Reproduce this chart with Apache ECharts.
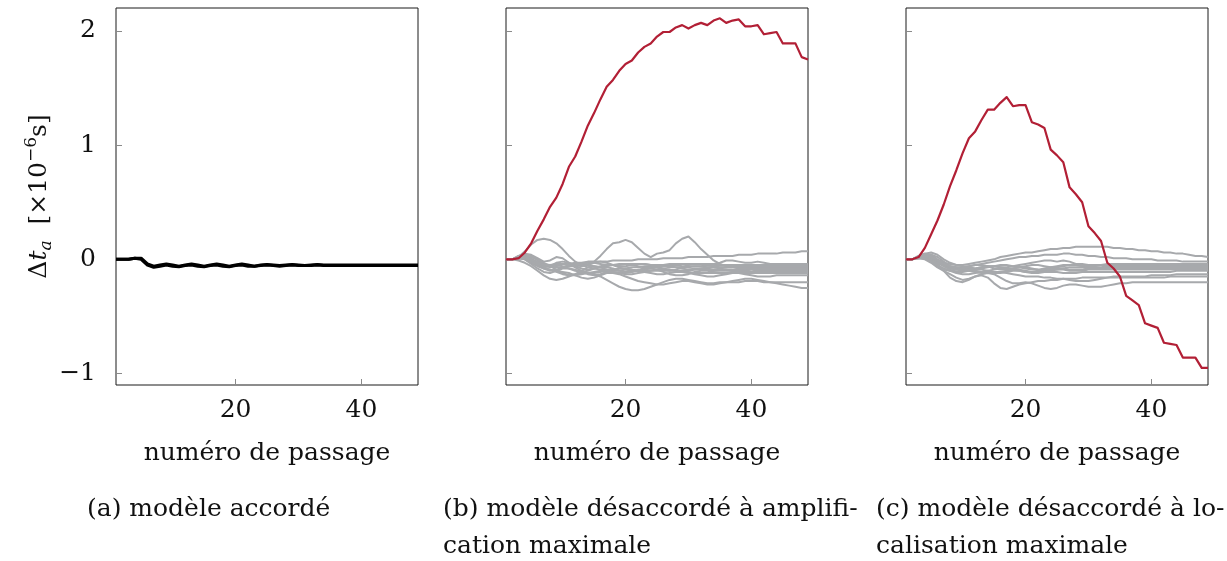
<!DOCTYPE html>
<html><head><meta charset="utf-8">
<script src="https://cdn.jsdelivr.net/npm/echarts@6/dist/echarts.min.js"></script>
<style>html,body{margin:0;padding:0;background:#fff}#c{width:1227px;height:561px}</style>
</head><body><div id="c"></div>
<script>
// ---------- data ----------
const passages = [1,2,3,4,5,6,7,8,9,10,11,12,13,14,15,16,17,18,19,20,21,22,23,24,25,26,27,28,29,30,31,32,33,34,35,36,37,38,39,40,41,42,43,44,45,46,47,48,49];
const xTicks = [20, 40];
const yTicks = [-1, 0, 1, 2];

// (a) tuned model
const tuned1 = [0,0,0,0.01,0.01,-0.04,-0.06,-0.05,-0.04,-0.05,
  -0.06,-0.05,-0.04,-0.05,-0.06,-0.05,-0.04,-0.05,-0.06,-0.05,
  -0.04,-0.05,-0.06,-0.05,-0.045,-0.05,-0.055,-0.05,-0.045,-0.05,
  -0.055,-0.05,-0.045,-0.05,-0.05,-0.05,-0.05,-0.05,-0.05,-0.05,
  -0.05,-0.05,-0.05,-0.05,-0.05,-0.05,-0.05,-0.05,-0.05];
const tuned2 = [0,0,0,0.01,0.0,-0.05,-0.07,-0.06,-0.05,-0.06,
  -0.065,-0.055,-0.05,-0.06,-0.065,-0.055,-0.05,-0.06,-0.065,-0.055,
  -0.05,-0.06,-0.06,-0.055,-0.05,-0.055,-0.06,-0.055,-0.05,-0.055,
  -0.055,-0.055,-0.05,-0.055,-0.055,-0.055,-0.055,-0.055,-0.055,-0.055,
  -0.055,-0.055,-0.055,-0.055,-0.055,-0.055,-0.055,-0.055,-0.055];

// (b) mistuned, maximal amplification
const ampWorst = [0,0,0.01,0.06,0.14,0.25,0.35,0.46,0.54,0.66,
  0.81,0.90,1.03,1.17,1.28,1.40,1.51,1.57,1.65,1.71,
  1.74,1.81,1.86,1.89,1.95,1.99,1.99,2.03,2.05,2.02,
  2.05,2.07,2.05,2.09,2.11,2.07,2.09,2.10,2.04,2.04,
  2.05,1.97,1.98,1.99,1.89,1.89,1.89,1.77,1.75];
const ampOthers = [
 [0,0,0.02,0.07,0.13,0.17,0.18,0.17,0.14,0.09, 0.03,-0.02,-0.05,-0.07,-0.08,-0.09,-0.09,-0.10,-0.10,-0.09, -0.09,-0.10,-0.10,-0.10,-0.09,-0.09,-0.09,-0.10,-0.10,-0.10, -0.09,-0.09,-0.09,-0.10,-0.10,-0.10,-0.10,-0.09,-0.09,-0.09, -0.10,-0.10,-0.10,-0.10,-0.10,-0.10,-0.10,-0.10,-0.10],
 [0,0,0.03,0.04,0.01,-0.03,-0.05,-0.06,-0.07,-0.07, -0.06,-0.06,-0.05,-0.04,-0.02,0.03,0.09,0.14,0.15,0.17, 0.15,0.10,0.05,0.02,0.05,0.06,0.08,0.14,0.18,0.20, 0.15,0.09,0.04,-0.01,-0.04,-0.06,-0.06,-0.07,-0.08,-0.08, -0.08,-0.09,-0.09,-0.09,-0.09,-0.10,-0.10,-0.10,-0.10],
 [0,0,0.02,0.02,0.0,-0.02,-0.04,-0.05,-0.05,-0.04, -0.04,-0.03,-0.03,-0.02,-0.02,-0.02,-0.02,-0.01,-0.01,-0.01, -0.01,0.0,0.0,0.0,0.0,0.01,0.01,0.01,0.01,0.02, 0.02,0.02,0.02,0.03,0.03,0.03,0.03,0.04,0.04,0.04, 0.05,0.05,0.05,0.05,0.06,0.06,0.06,0.07,0.07],
 [0,0,-0.01,-0.03,-0.06,-0.10,-0.14,-0.17,-0.18,-0.17, -0.15,-0.13,-0.12,-0.12,-0.13,-0.15,-0.18,-0.21,-0.24,-0.26, -0.27,-0.27,-0.26,-0.24,-0.22,-0.20,-0.18,-0.17,-0.17,-0.18, -0.19,-0.20,-0.21,-0.21,-0.20,-0.20,-0.20,-0.20,-0.19,-0.19, -0.19,-0.20,-0.20,-0.21,-0.22,-0.23,-0.24,-0.25,-0.25],
 [0,0,0.01,0.0,-0.03,-0.06,-0.08,-0.09,-0.10,-0.11, -0.12,-0.14,-0.16,-0.17,-0.16,-0.14,-0.12,-0.12,-0.13,-0.15, -0.17,-0.19,-0.20,-0.21,-0.22,-0.22,-0.21,-0.20,-0.19,-0.19, -0.20,-0.21,-0.22,-0.22,-0.21,-0.20,-0.19,-0.18,-0.17,-0.17, -0.18,-0.19,-0.20,-0.20,-0.20,-0.20,-0.20,-0.20,-0.20],
 [0,0,0.03,0.05,0.04,0.01,-0.02,-0.01,0.02,0.01, -0.03,-0.07,-0.10,-0.12,-0.12,-0.11,-0.10,-0.09,-0.08,-0.08, -0.07,-0.07,-0.06,-0.06,-0.06,-0.06,-0.07,-0.07,-0.07,-0.07, -0.06,-0.06,-0.07,-0.07,-0.07,-0.07,-0.07,-0.07,-0.07,-0.07, -0.07,-0.07,-0.07,-0.07,-0.07,-0.07,-0.07,-0.07,-0.07],
 [0,0,0.02,0.03,0.0,-0.04,-0.08,-0.10,-0.09,-0.07, -0.05,-0.04,-0.04,-0.05,-0.06,-0.07,-0.06,-0.05,-0.04,-0.04, -0.05,-0.06,-0.07,-0.07,-0.06,-0.05,-0.05,-0.05,-0.06,-0.06, -0.06,-0.06,-0.05,-0.05,-0.05,-0.05,-0.05,-0.05,-0.05,-0.05, -0.05,-0.05,-0.05,-0.05,-0.05,-0.05,-0.05,-0.05,-0.05],
 [0,0,0.01,0.0,-0.04,-0.08,-0.11,-0.12,-0.10,-0.08, -0.08,-0.09,-0.11,-0.13,-0.14,-0.13,-0.11,-0.09,-0.08,-0.08, -0.09,-0.10,-0.11,-0.12,-0.13,-0.13,-0.12,-0.11,-0.11,-0.11, -0.12,-0.12,-0.12,-0.12,-0.12,-0.12,-0.12,-0.12,-0.12,-0.12, -0.12,-0.12,-0.12,-0.12,-0.12,-0.12,-0.12,-0.12,-0.12],
 [0,0,0.02,0.04,0.03,-0.01,-0.05,-0.07,-0.06,-0.04, -0.04,-0.06,-0.08,-0.09,-0.08,-0.07,-0.07,-0.08,-0.10,-0.11, -0.11,-0.10,-0.08,-0.07,-0.07,-0.08,-0.09,-0.10,-0.10,-0.09, -0.08,-0.08,-0.08,-0.09,-0.09,-0.09,-0.09,-0.08,-0.08,-0.08, -0.08,-0.08,-0.08,-0.08,-0.08,-0.08,-0.08,-0.08,-0.08],
 [0,0,0.01,0.02,-0.01,-0.05,-0.07,-0.06,-0.03,-0.02, -0.03,-0.05,-0.06,-0.05,-0.03,-0.02,-0.03,-0.05,-0.07,-0.09, -0.10,-0.10,-0.09,-0.08,-0.07,-0.06,-0.06,-0.07,-0.08,-0.09, -0.09,-0.08,-0.07,-0.07,-0.08,-0.09,-0.10,-0.10,-0.10,-0.09, -0.09,-0.09,-0.09,-0.09,-0.09,-0.09,-0.09,-0.09,-0.09],
 [0,0,0.02,0.03,0.02,0.0,-0.03,-0.06,-0.09,-0.12, -0.14,-0.13,-0.10,-0.07,-0.06,-0.07,-0.09,-0.11,-0.12,-0.12, -0.11,-0.09,-0.08,-0.08,-0.09,-0.11,-0.13,-0.14,-0.14,-0.13, -0.11,-0.10,-0.10,-0.11,-0.12,-0.12,-0.11,-0.11,-0.11,-0.11, -0.11,-0.11,-0.11,-0.11,-0.11,-0.11,-0.11,-0.11,-0.11],
 [0,0,0.01,0.01,-0.02,-0.05,-0.06,-0.05,-0.05,-0.06, -0.08,-0.10,-0.11,-0.10,-0.08,-0.06,-0.05,-0.05,-0.06,-0.06, -0.05,-0.04,-0.04,-0.05,-0.07,-0.09,-0.10,-0.09,-0.07,-0.05, -0.04,-0.04,-0.05,-0.06,-0.07,-0.07,-0.06,-0.06,-0.06,-0.06, -0.06,-0.06,-0.06,-0.06,-0.06,-0.06,-0.06,-0.06,-0.06],
 [0,0,0.02,0.02,-0.01,-0.04,-0.07,-0.09,-0.11,-0.13, -0.14,-0.14,-0.13,-0.12,-0.11,-0.10,-0.10,-0.11,-0.12,-0.13, -0.13,-0.12,-0.11,-0.10,-0.10,-0.10,-0.10,-0.10,-0.11,-0.12, -0.13,-0.14,-0.15,-0.15,-0.14,-0.13,-0.12,-0.12,-0.13,-0.14, -0.15,-0.15,-0.15,-0.14,-0.14,-0.14,-0.14,-0.14,-0.14],
 [0,0,0.01,0.02,0.0,-0.03,-0.05,-0.05,-0.04,-0.04, -0.05,-0.05,-0.04,-0.03,-0.03,-0.04,-0.05,-0.05,-0.05,-0.04, -0.04,-0.04,-0.04,-0.05,-0.05,-0.05,-0.04,-0.04,-0.04,-0.04, -0.04,-0.04,-0.04,-0.04,-0.03,-0.01,-0.01,-0.02,-0.03,-0.03, -0.02,-0.03,-0.04,-0.04,-0.04,-0.04,-0.04,-0.04,-0.04]
];

// (c) mistuned, maximal localisation
const locWorst = [0,0,0.02,0.10,0.22,0.34,0.48,0.64,0.78,0.93,
  1.06,1.12,1.22,1.31,1.31,1.37,1.42,1.34,1.35,1.35,
  1.20,1.18,1.15,0.96,0.91,0.85,0.63,0.57,0.50,0.29,
  0.23,0.16,-0.03,-0.08,-0.15,-0.32,-0.36,-0.40,-0.56,-0.58,
  -0.60,-0.73,-0.74,-0.75,-0.86,-0.86,-0.86,-0.95,-0.95];
const locOthers = [
 [0,0,0.03,0.05,0.06,0.04,0.0,-0.03,-0.05,-0.05, -0.04,-0.03,-0.02,-0.01,0.0,0.02,0.03,0.04,0.05,0.06, 0.06,0.07,0.08,0.09,0.09,0.10,0.10,0.11,0.11,0.11, 0.11,0.11,0.11,0.10,0.10,0.09,0.09,0.08,0.08,0.07, 0.07,0.06,0.06,0.05,0.05,0.04,0.03,0.03,0.02],
 [0,0,0.02,0.04,0.03,-0.01,-0.05,-0.07,-0.08,-0.07, -0.06,-0.05,-0.04,-0.03,-0.02,-0.01,0.0,0.01,0.02,0.02, 0.03,0.03,0.04,0.04,0.04,0.05,0.05,0.04,0.04,0.03, 0.03,0.02,0.02,0.01,0.01,0.01,0.0,0.0,0.0,0.0, -0.01,-0.01,-0.01,-0.01,-0.02,-0.02,-0.02,-0.02,-0.02],
 [0,0,0.02,0.04,0.02,-0.04,-0.10,-0.16,-0.19,-0.20, -0.18,-0.15,-0.14,-0.16,-0.21,-0.25,-0.26,-0.24,-0.22,-0.21, -0.20,-0.19,-0.19,-0.18,-0.18,-0.17,-0.17,-0.17,-0.16,-0.16, -0.16,-0.16,-0.16,-0.16,-0.16,-0.16,-0.16,-0.16,-0.16,-0.16, -0.16,-0.16,-0.15,-0.15,-0.15,-0.15,-0.15,-0.15,-0.15],
 [0,0,0.01,0.0,-0.03,-0.07,-0.10,-0.13,-0.16,-0.18, -0.17,-0.15,-0.13,-0.12,-0.13,-0.16,-0.19,-0.21,-0.21,-0.20, -0.21,-0.23,-0.25,-0.26,-0.25,-0.23,-0.22,-0.22,-0.23,-0.24, -0.24,-0.24,-0.23,-0.22,-0.21,-0.21,-0.20,-0.20,-0.20,-0.20, -0.20,-0.20,-0.20,-0.20,-0.20,-0.20,-0.20,-0.20,-0.20],
 [0,0,0.02,0.03,0.01,-0.03,-0.06,-0.08,-0.09,-0.09, -0.10,-0.11,-0.12,-0.12,-0.11,-0.11,-0.12,-0.13,-0.14,-0.15, -0.15,-0.15,-0.16,-0.16,-0.17,-0.17,-0.18,-0.19,-0.19,-0.19, -0.18,-0.17,-0.16,-0.15,-0.15,-0.15,-0.15,-0.15,-0.15,-0.14, -0.14,-0.14,-0.14,-0.13,-0.13,-0.13,-0.13,-0.13,-0.13],
 [0,0,0.03,0.05,0.04,0.0,-0.03,-0.04,-0.05,-0.06, -0.07,-0.08,-0.07,-0.06,-0.06,-0.07,-0.08,-0.08,-0.07,-0.06, -0.05,-0.05,-0.06,-0.07,-0.07,-0.06,-0.05,-0.04,-0.04,-0.05, -0.05,-0.05,-0.05,-0.05,-0.05,-0.05,-0.05,-0.05,-0.05,-0.05, -0.05,-0.05,-0.05,-0.05,-0.05,-0.05,-0.05,-0.05,-0.05],
 [0,0,0.02,0.03,0.01,-0.02,-0.06,-0.09,-0.11,-0.11, -0.10,-0.09,-0.09,-0.10,-0.11,-0.11,-0.10,-0.09,-0.09,-0.10, -0.11,-0.11,-0.10,-0.09,-0.09,-0.09,-0.10,-0.10,-0.10,-0.09, -0.09,-0.09,-0.09,-0.09,-0.09,-0.09,-0.09,-0.09,-0.09,-0.09, -0.09,-0.09,-0.09,-0.09,-0.09,-0.09,-0.09,-0.09,-0.09],
 [0,0,0.01,0.02,0.0,-0.03,-0.05,-0.06,-0.07,-0.07, -0.06,-0.05,-0.05,-0.06,-0.08,-0.09,-0.09,-0.08,-0.07,-0.07, -0.08,-0.09,-0.10,-0.10,-0.09,-0.08,-0.07,-0.07,-0.07,-0.08, -0.08,-0.08,-0.07,-0.07,-0.07,-0.07,-0.07,-0.07,-0.07,-0.07, -0.07,-0.07,-0.07,-0.07,-0.07,-0.07,-0.07,-0.07,-0.07],
 [0,0,0.02,0.04,0.04,0.02,-0.02,-0.06,-0.09,-0.10, -0.10,-0.09,-0.08,-0.07,-0.06,-0.05,-0.05,-0.06,-0.07,-0.08, -0.09,-0.09,-0.08,-0.07,-0.06,-0.05,-0.05,-0.05,-0.06,-0.07, -0.07,-0.07,-0.06,-0.06,-0.06,-0.06,-0.06,-0.06,-0.06,-0.06, -0.06,-0.06,-0.06,-0.06,-0.06,-0.06,-0.06,-0.06,-0.06],
 [0,0,0.02,0.02,-0.01,-0.05,-0.08,-0.10,-0.12,-0.13, -0.13,-0.12,-0.11,-0.11,-0.12,-0.12,-0.11,-0.10,-0.10,-0.11, -0.12,-0.12,-0.11,-0.11,-0.11,-0.12,-0.12,-0.12,-0.11,-0.11, -0.11,-0.11,-0.11,-0.11,-0.11,-0.11,-0.11,-0.11,-0.11,-0.11, -0.11,-0.11,-0.11,-0.10,-0.10,-0.10,-0.10,-0.10,-0.10],
 [0,0,0.02,0.03,0.02,-0.01,-0.04,-0.06,-0.07,-0.08, -0.08,-0.08,-0.07,-0.06,-0.06,-0.07,-0.07,-0.06,-0.05,-0.04, -0.03,-0.02,-0.01,-0.01,-0.02,-0.01,-0.02,-0.04,-0.05,-0.06, -0.06,-0.05,-0.04,-0.04,-0.04,-0.04,-0.04,-0.04,-0.04,-0.04, -0.04,-0.04,-0.04,-0.04,-0.04,-0.04,-0.04,-0.04,-0.04],
 [0,0,0.01,0.01,-0.02,-0.06,-0.09,-0.10,-0.09,-0.08, -0.09,-0.10,-0.11,-0.10,-0.09,-0.08,-0.08,-0.09,-0.10,-0.11, -0.11,-0.10,-0.09,-0.08,-0.08,-0.08,-0.09,-0.09,-0.09,-0.08, -0.08,-0.08,-0.08,-0.08,-0.08,-0.08,-0.08,-0.08,-0.08,-0.08, -0.08,-0.08,-0.08,-0.08,-0.08,-0.08,-0.08,-0.08,-0.08]
];

const xName = 'numéro de passage';
const captions = [
  ['(a) modèle accordé'],
  ['(b) modèle désaccordé à amplifi-', 'cation maximale'],
  ['(c) modèle désaccordé à lo-', 'calisation maximale']
];

// ---------- chart ----------
const FONT = '"DejaVu Serif", serif';
const FS = 25;
const GREY = '#a7a9ac';
const RED = '#b21f35';
const lefts = [116, 506, 906];

function pairs(vals) { return vals.map((v, i) => [passages[i], v]); }

const grids = lefts.map(l => ({ left: l, top: 8, width: 302, height: 377, show: true, borderColor: '#1a1a1a', borderWidth: 1, backgroundColor: 'transparent' }));

const xAxes = lefts.map((l, i) => ({
  type: 'value', gridIndex: i, min: 1, max: 49,
  axisLine: { show: false, onZero: false },
  splitLine: { show: false },
  axisTick: { show: true, inside: true, length: 6, customValues: xTicks, lineStyle: { color: '#8a8a8a', width: 1 } },
  axisLabel: { customValues: xTicks, color: '#111', fontFamily: FONT, fontSize: FS, margin: 13 },
  name: xName, nameLocation: 'middle', nameGap: 56,
  nameTextStyle: { color: '#111', fontFamily: FONT, fontSize: FS }
}));

const yAxes = lefts.map((l, i) => ({
  type: 'value', gridIndex: i, min: -1.1, max: 2.2,
  axisLine: { show: false, onZero: false },
  splitLine: { show: false },
  axisTick: { show: true, inside: true, length: 6, customValues: yTicks, lineStyle: { color: '#8a8a8a', width: 1 } },
  axisLabel: { show: i === 0, customValues: yTicks, color: '#111', fontFamily: FONT, fontSize: FS, margin: 20,
    formatter: v => v < 0 ? '\u2212' + Math.abs(v) : String(v) },
  name: i === 0 ? '{n|Δ}{it|t}{sub|a}{n|  [×10}{sup|−6}{n|s]}' : '',
  nameLocation: 'middle', nameGap: 55, nameRotate: 90,
  nameTextStyle: {
    color: '#111', fontFamily: FONT, fontSize: FS,
    rich: {
      n: { fontFamily: FONT, fontSize: FS, color: '#111' },
      it: { fontFamily: FONT, fontSize: FS, fontStyle: 'italic', color: '#111' },
      sub: { fontFamily: FONT, fontSize: 17, fontStyle: 'italic', color: '#111', padding: [14, 0, 0, 0] },
      sup: { fontFamily: FONT, fontSize: 17, color: '#111', padding: [0, 0, 16, 0] }
    }
  }
}));

const series = [];
function line(vals, idx, color, width, z) {
  series.push({ type: 'line', xAxisIndex: idx, yAxisIndex: idx, data: pairs(vals), showSymbol: false, symbol: 'none',
    lineStyle: { color: color, width: width, join: 'round' }, z: z, silent: true });
}
line(tuned1, 0, '#000', 3, 3);
line(tuned2, 0, '#000', 3, 3);
ampOthers.forEach(v => line(v, 1, GREY, 2, 2));
line(ampWorst, 1, RED, 2.2, 4);
locOthers.forEach(v => line(v, 2, GREY, 2, 2));
line(locWorst, 2, RED, 2.2, 4);

const capX = [87, 443, 876];
const graphics = [];
captions.forEach((lines, i) => {
  lines.forEach((t, j) => {
    graphics.push({ type: 'text', left: capX[i], top: 497 + j * 37, style: { text: t, fill: '#111', font: FS + 'px ' + FONT } });
  });
});

const chart = echarts.init(document.getElementById('c'), null, { renderer: 'canvas' });
chart.setOption({
  animation: false,
  backgroundColor: '#fff',
  grid: grids, xAxis: xAxes, yAxis: yAxes, series: series, graphic: graphics
});
</script>
</body></html>
